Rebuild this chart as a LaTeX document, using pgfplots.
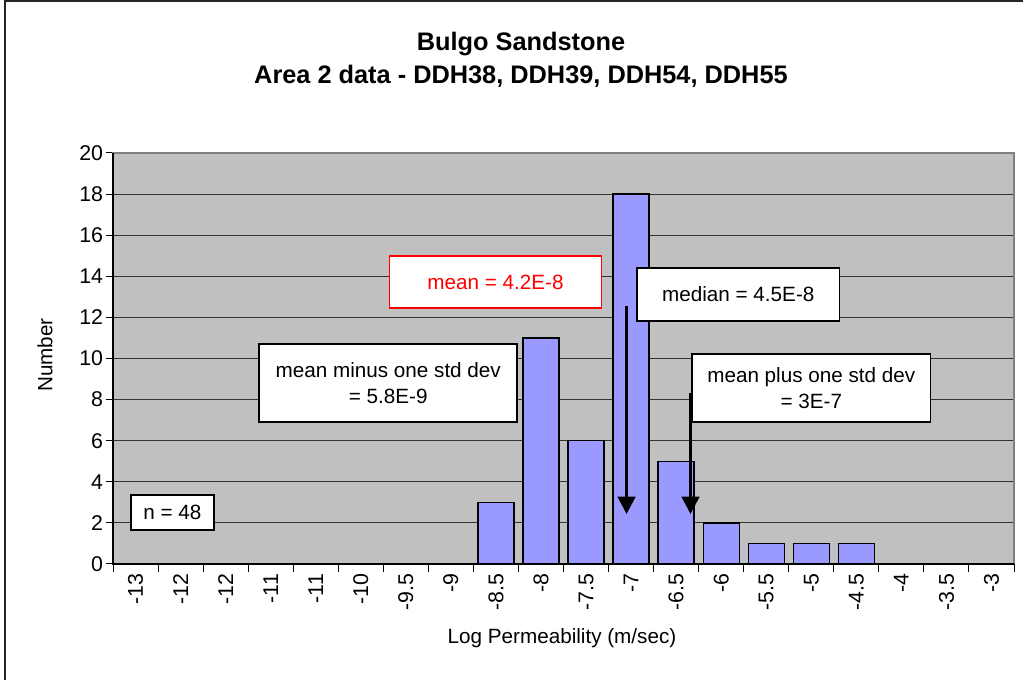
\documentclass[border=0pt]{standalone}
\usepackage{fontspec}
\setmainfont{Liberation Sans}
\usepackage{pgfplots}
\pgfplotsset{compat=1.18}
\usetikzlibrary{arrows.meta}
\definecolor{barblue}{HTML}{9999FF}
\definecolor{plotgray}{HTML}{C0C0C0}
\definecolor{bordergray}{HTML}{808080}
\begin{document}
\begin{tikzpicture}[x=0.75pt,y=0.75pt]
\useasboundingbox (0,0) rectangle (1023,680);
\draw[line width=1.4pt, black!85] (5,0) -- (5,679) -- (1023,679);
\node[font=\fontsize{19}{24.75}\selectfont\bfseries, align=center] at (521,620.5)
  {Bulgo Sandstone\\Area 2 data - DDH38, DDH39, DDH54, DDH55};
\node[font=\fontsize{15.5}{19}\selectfont, rotate=90] at (45,325) {Number};
\node[font=\fontsize{15.5}{19}\selectfont] at (562,42) {Log Permeability (m/sec)};
\begin{axis}[
  at={(84.75pt,87pt)}, anchor=south west,
  width=675.75pt, height=308.25pt, scale only axis,
  xmin=-0.5, xmax=19.5, ymin=0, ymax=20,
  ytick={0,2,...,20},
  xtick={0,...,19},
  ytick pos=left, xtick pos=bottom,
  xticklabels={-13,-12,-12,-11,-11,-10,-9.5,-9,-8.5,-8,-7.5,-7,-6.5,-6,-5.5,-5,-4.5,-4,-3.5,-3},
  x tick label style={rotate=90, anchor=east, font=\fontsize{16}{19}\selectfont, inner sep=2pt},
  y tick label style={font=\fontsize{16}{19}\selectfont, inner sep=2pt},
  /pgf/number format/assume math mode=true,
  xtick style={draw=none},
  ytick style={black, line width=0.75pt},
  tick align=outside, major tick length=5.25pt,
  ymajorgrids, grid style={black!80, line width=0.75pt},
  axis background/.style={fill=plotgray},
  axis line style={bordergray, line width=1.2pt},
  ybar, bar width=27pt,
]
\addplot[fill=barblue, draw=black, line width=1pt] coordinates {
 (0,0) (1,0) (2,0) (3,0) (4,0) (5,0) (6,0) (7,0)
 (8,3) (9,11) (10,6) (11,18) (12,5) (13,2) (14,1) (15,1) (16,1)
 (17,0) (18,0) (19,0)};
\node[draw=red, text=red, fill=white, line width=1.2pt, minimum width=159pt, minimum height=39pt, font=\fontsize{15.5}{19.5}\selectfont] at (axis cs:7.99,13.72) {mean = 4.2E-8};
\node[draw=black, fill=white, line width=1.2pt, minimum width=152pt, minimum height=40pt, font=\fontsize{15.5}{19.5}\selectfont] at (axis cs:13.38,13.11) {median = 4.5E-8};
\node[draw=black, fill=white, line width=1.2pt, minimum width=193.5pt, minimum height=58.5pt, align=center, font=\fontsize{15.5}{19.5}\selectfont] at (axis cs:5.61,8.81) {mean minus one std dev\\= 5.8E-9};
\node[draw=black, fill=white, line width=1.2pt, minimum width=179pt, minimum height=51pt, align=center, font=\fontsize{15.5}{19.5}\selectfont] at (axis cs:15.0,8.56) {mean plus one std dev\\= 3E-7};
\node[draw=black, fill=white, line width=1.2pt, minimum width=62pt, minimum height=26pt, font=\fontsize{15.5}{19.5}\selectfont] at (axis cs:0.82,2.51) {n = 48};
\draw[line width=2.4pt, -{Triangle[width=13pt,length=13pt]}] (axis cs:10.9,12.55) -- (axis cs:10.9,2.43);
\draw[line width=2.4pt, -{Triangle[width=13pt,length=13pt]}] (axis cs:12.32,8.32) -- (axis cs:12.32,2.43);
\end{axis}
\draw[black, line width=1pt] (113,527) -- (113,116) -- (1014,116);
\foreach \i in {0,...,20} \draw[black, line width=0.75pt] (113+45.05*\i,116) -- ++(0,-8);
\end{tikzpicture}
\end{document}
